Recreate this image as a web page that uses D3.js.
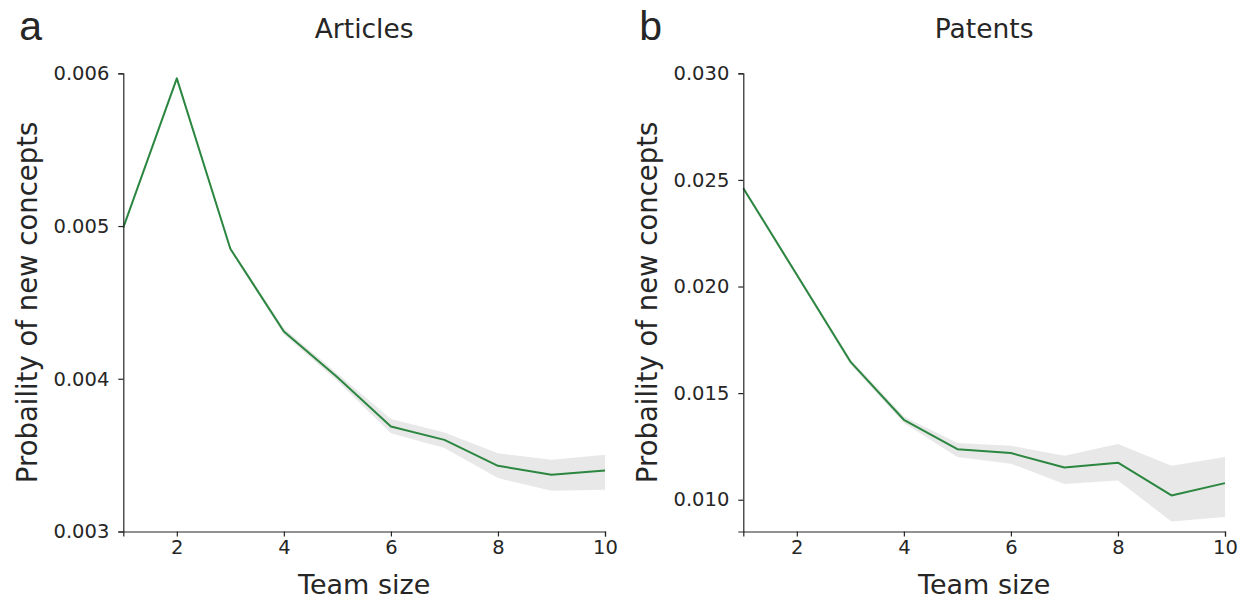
<!DOCTYPE html>
<html>
<head>
<meta charset="utf-8">
<script src="https://cdn.jsdelivr.net/npm/d3@7"></script>
<style>
  html, body { margin: 0; padding: 0; background: #fff; }
  svg { display: block; }
  text { fill: #262626; }
</style>
</head>
<body>
<svg id="chart" width="1244" height="599"></svg>
<script>
const teamSize = [1, 2, 3, 4, 5, 6, 7, 8, 9, 10];

const articlesMean  = [0.00499, 0.005967, 0.004851, 0.00431, 0.00401, 0.003688, 0.0036, 0.00343, 0.003371, 0.0034];
const articlesLower = [0.004985, 0.005959, 0.00484, 0.00429, 0.003985, 0.003644, 0.003546, 0.00335, 0.003267, 0.003273];
const articlesUpper = [0.004995, 0.005975, 0.004862, 0.00433, 0.004035, 0.003736, 0.003648, 0.003513, 0.00347, 0.003502];

const patentsMean  = [0.02461, 0.02055, 0.01648, 0.01375, 0.01237, 0.01219, 0.01151, 0.01174, 0.0102, 0.01078];
const patentsLower = [0.0245, 0.02045, 0.01635, 0.0136, 0.0120, 0.01169, 0.01074, 0.0109, 0.00898, 0.00919];
const patentsUpper = [0.0247, 0.02065, 0.0166, 0.0139, 0.01266, 0.01253, 0.01206, 0.01261, 0.01159, 0.0120];

const xTicks = [2, 4, 6, 8, 10];
const articlesYTicks = [0.003, 0.004, 0.005, 0.006];
const patentsYTicks = [0.010, 0.015, 0.020, 0.025, 0.030];

const panels = [
  { letter: "a", title: "Articles", mean: articlesMean, lower: articlesLower, upper: articlesUpper,
    yDomain: [0.003, 0.006], yTicks: articlesYTicks, left: 123.3, right: 605 },
  { letter: "b", title: "Patents", mean: patentsMean, lower: patentsLower, upper: patentsUpper,
    yDomain: [0.00851, 0.030], yTicks: patentsYTicks, left: 743.3, right: 1225 }
];

const svg = d3.select("#chart");
const plotTop = 73.3, plotBottom = 531.5;
const fontMain = "'DejaVu Sans', sans-serif";

panels.forEach(p => {
  const x = d3.scaleLinear().domain([1, 10]).range([p.left, p.right]);
  const y = d3.scaleLinear().domain(p.yDomain).range([plotBottom, plotTop]);
  const g = svg.append("g");

  const rows = teamSize.map((t, i) => ({ t, m: p.mean[i], lo: p.lower[i], hi: p.upper[i] }));

  g.append("path")
    .datum(rows)
    .attr("fill", "#e6e6e6")
    .attr("fill-opacity", 0.9)
    .attr("d", d3.area().x(d => x(d.t)).y0(d => y(d.lo)).y1(d => y(d.hi)));

  g.append("path")
    .datum(rows)
    .attr("fill", "none")
    .attr("stroke", "#2b8640")
    .attr("stroke-width", 2)
    .attr("stroke-linejoin", "round")
    .attr("d", d3.line().x(d => x(d.t)).y(d => y(d.m)));

  const xAxis = g.append("g")
    .attr("transform", `translate(0,${plotBottom})`)
    .call(d3.axisBottom(x).tickValues(xTicks).tickFormat(d3.format("d")).tickSizeOuter(0).tickSize(5).tickPadding(4));
  const yAxis = g.append("g")
    .attr("transform", `translate(${p.left},0)`)
    .call(d3.axisLeft(y).tickValues(p.yTicks).tickFormat(d3.format(".3f")).tickSizeOuter(0).tickSize(5).tickPadding(9));

  [xAxis, yAxis].forEach(a => {
    a.select(".domain").attr("stroke", "#262626").attr("stroke-width", 1.2);
    a.selectAll(".tick line").attr("stroke", "#262626").attr("stroke-width", 1.2);
    a.selectAll(".tick text").attr("font-family", fontMain).attr("font-size", 19.5).attr("fill", "#262626");
  });
  xAxis.selectAll(".tick text").attr("dy", "0.71em");

  g.append("text")
    .attr("x", (p.left + p.right) / 2)
    .attr("y", 594)
    .attr("text-anchor", "middle")
    .attr("font-family", fontMain)
    .attr("font-size", 27)
    .text("Team size");

  g.append("text")
    .attr("transform", `translate(${p.left - 86},${(plotTop + plotBottom) / 2}) rotate(-90)`)
    .attr("text-anchor", "middle")
    .attr("font-family", fontMain)
    .attr("font-size", 27.5)
    .text("Probaility of new concepts");

  g.append("text")
    .attr("x", (p.left + p.right) / 2)
    .attr("y", 38)
    .attr("text-anchor", "middle")
    .attr("font-family", fontMain)
    .attr("font-size", 26.5)
    .text(p.title);

  g.append("text")
    .attr("x", p.left - 104)
    .attr("y", 40)
    .attr("font-family", "'Liberation Sans', Arial, sans-serif")
    .attr("font-size", 41)
    .attr("fill", "#000")
    .text(p.letter);
});
</script>
</body>
</html>
